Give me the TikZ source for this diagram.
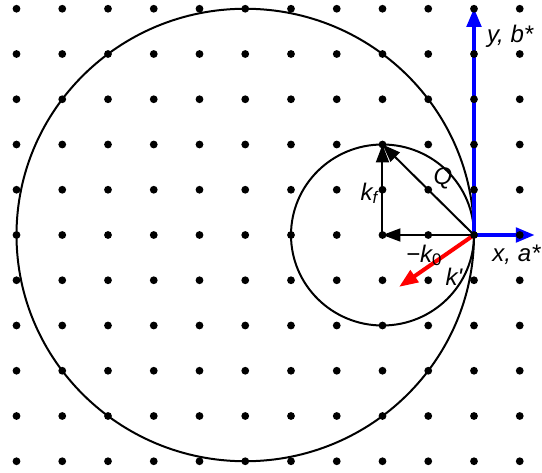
\documentclass[tikz,border=0pt]{standalone}
\usepackage{fontspec}
\setmainfont{Liberation Sans}
\usetikzlibrary{arrows.meta}
\begin{document}
\begin{tikzpicture}[x=45.75bp,y=45.25bp,
  lbl/.style={font=\fontsize{24bp}{28bp}\selectfont\itshape, inner sep=0pt},
  vec/.style={line width=2bp,-{Triangle[length=18bp,width=13bp]}},
  axisarrow/.style={blue,line width=4.5bp,-{Triangle[length=19bp,width=14bp]}},
  kparrow/.style={red,line width=4bp,-{Triangle[length=19bp,width=14bp]}},
  ring/.style={line width=2bp},
  latdot/.style={fill=black}]
\useasboundingbox (-474bp,-238bp) rectangle (68bp,235bp);
% points
\coordinate (O) at (0,0);
\coordinate (K0) at (-2,0);
\coordinate (KF) at (-2,2);
\coordinate (KP) at (215:2);
\coordinate (XT) at (1.333,0);
\coordinate (YT) at (0,5.02);
% circles
\draw[ring] (-5,0) circle[radius=5];
\draw[ring] (K0) circle[radius=2];
% vectors
\draw[vec] (K0) -- (KF);
\draw[vec] (O) -- (KF);
\draw[vec] (O) -- (K0);
\draw[axisarrow] (O) -- (YT);
\draw[axisarrow] (O) -- (XT);
\draw[kparrow] (O) -- (KP);
% lattice
\foreach \i in {-10,...,1}
  \foreach \j in {-5,...,5}
    \fill[latdot] (\i,\j) circle[radius=3.9bp];
% labels
\node[lbl,anchor=west] (ylab) at (0.28,4.40) {y, b*};
\node[lbl,anchor=west] (xlab) at (0.40,-0.44) {x, a*};
\node[lbl,anchor=east] (kflab) at (-2.10,0.92) {k\textsubscript{f}};
\node[lbl] (qlab) at (-0.68,1.26) {Q};
\node[lbl] (k0lab) at (-1.09,-0.45) {−k\textsubscript{\upshape 0}};
\node[lbl] (kplab) at (-0.44,-0.92) {k\textquotesingle};
\end{tikzpicture}
\end{document}
